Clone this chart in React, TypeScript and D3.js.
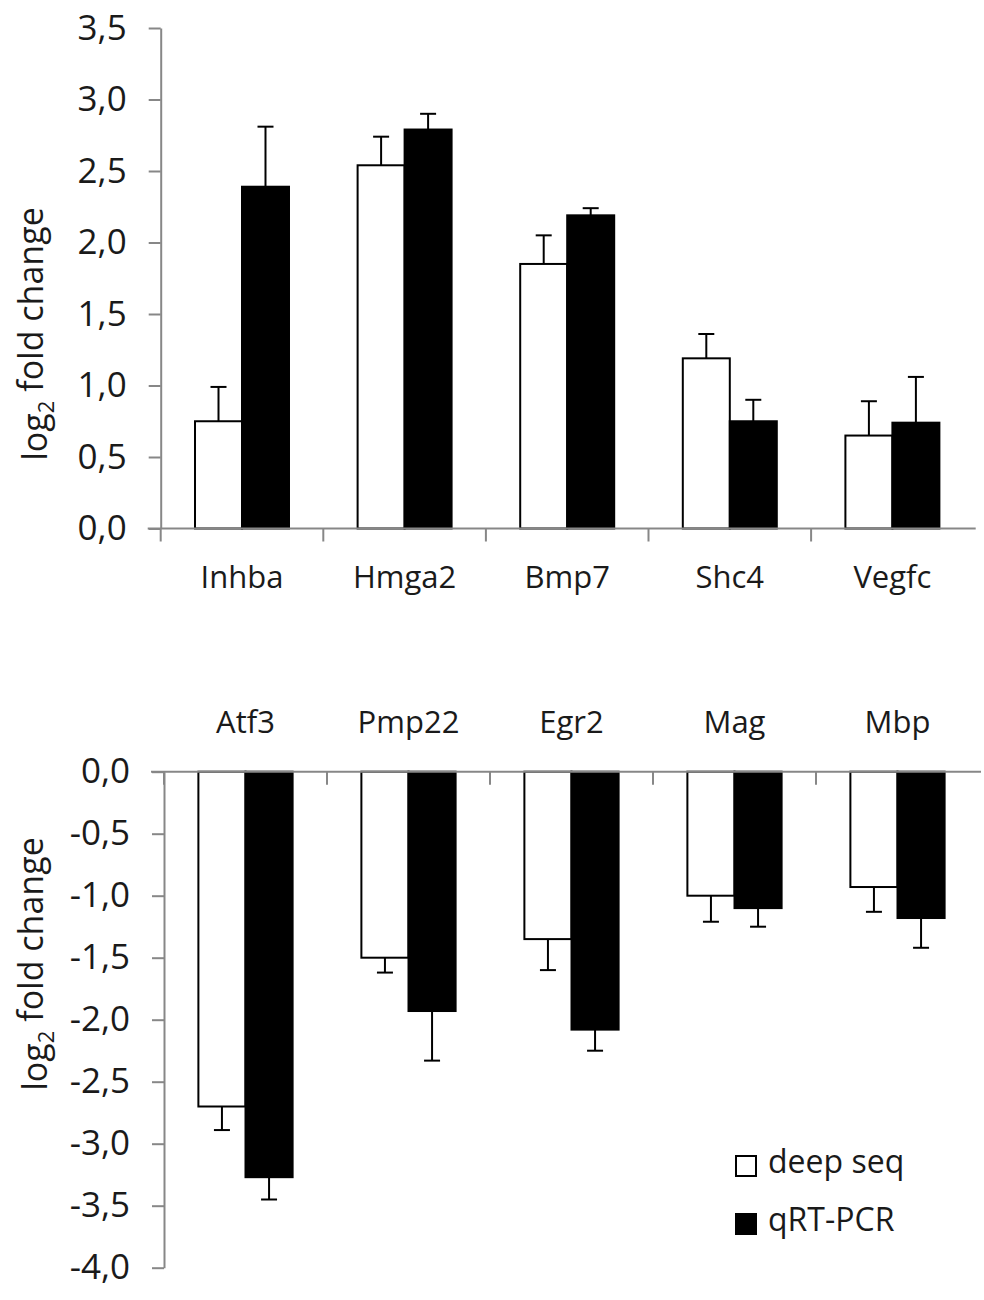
import * as React from 'react';
import * as d3 from "d3";
import { useRef, useEffect } from 'react';

// Upregulated genes (top panel)
const upGenes = ["Inhba", "Hmga2", "Bmp7", "Shc4", "Vegfc"]
const upDeepSeq = [0.75, 2.54, 1.85, 1.19, 0.65]
const upDeepSeqErr = [0.24, 0.20, 0.20, 0.17, 0.24]
const upQrt = [2.39, 2.79, 2.19, 0.75, 0.74]
const upQrtErr = [0.42, 0.11, 0.05, 0.15, 0.32]
const upTicks = [0, 0.5, 1, 1.5, 2, 2.5, 3, 3.5]

// Downregulated genes (bottom panel)
const downGenes = ["Atf3", "Pmp22", "Egr2", "Mag", "Mbp"]
const downDeepSeq = [-2.70, -1.50, -1.35, -1.00, -0.93]
const downDeepSeqErr = [0.19, 0.12, 0.25, 0.21, 0.20]
const downQrt = [-3.27, -1.93, -2.08, -1.10, -1.18]
const downQrtErr = [0.18, 0.40, 0.17, 0.15, 0.24]
const downTicks = [0, -0.5, -1, -1.5, -2, -2.5, -3, -3.5, -4]

const seriesNames = ["deep seq", "qRT-PCR"]
const seriesFill = ["#ffffff", "#000000"]

const FONT = "'Open Sans', 'DejaVu Sans', sans-serif"
const AXIS = "#878787"

// european number format: comma decimal, plain hyphen minus
const fmt = d3.formatLocale({ decimal: ",", thousands: ".", grouping: [3], currency: ["", ""], minus: "-" }).format(".1f")

type PanelProps = {
    genes: string[]
    values: number[][]
    errors: number[][]
    ticks: number[]
    domain: [number, number]
    yRange: [number, number]
    xRange: [number, number]
    labelY: number
    titleY: number
}

const Panel = (props: PanelProps) => {
    const axisRef = useRef<SVGGElement>(null)
    const { genes, values, errors, ticks, domain, yRange, xRange } = props

    const y = d3.scaleLinear().domain(domain).range(yRange)
    const x = d3.scaleBand().domain(genes).range(xRange)
    const sub = d3.scaleBand<number>().domain([0, 1]).range([0, x.bandwidth()]).paddingInner(0).paddingOuter(0.73)
    const zeroY = y(0)

    useEffect(() => {
        const g = d3.select(axisRef.current)
        g.selectAll("*").remove()
        g.attr("transform", "translate(" + xRange[0] + ",0)")
            .call(d3.axisLeft(y).tickValues(ticks).tickFormat(d => fmt(d as number)).tickSize(12).tickSizeOuter(0).tickPadding(22))
        g.select(".domain").attr("stroke", AXIS).attr("stroke-width", 2)
        g.selectAll(".tick line").attr("stroke", AXIS).attr("stroke-width", 2)
        g.selectAll(".tick text")
            .attr("font-family", FONT)
            .attr("font-size", 35)
            .attr("fill", "#1a1a1a")
    }, [])

    return (
        <g>
            {/* bars */}
            {genes.map((gene, i) => (
                <g key={gene} transform={`translate(${x(gene)},0)`}>
                    {[0, 1].map(s => {
                        const v = values[s][i]
                        return (
                            <rect key={s}
                                x={sub(s)}
                                y={Math.min(y(v), zeroY)}
                                width={sub.bandwidth()}
                                height={Math.abs(y(v) - zeroY)}
                                fill={seriesFill[s]}
                                stroke="#000"
                                strokeWidth={2} />
                        )
                    })}
                    {[0, 1].map(s => {
                        const v = values[s][i]
                        const e = v >= 0 ? v + errors[s][i] : v - errors[s][i]
                        const cx = (sub(s) as number) + sub.bandwidth() / 2
                        return (
                            <g key={"e" + s} stroke="#000" strokeWidth={2}>
                                <line x1={cx} x2={cx} y1={y(v)} y2={y(e)} />
                                <line x1={cx - 8} x2={cx + 8} y1={y(e)} y2={y(e)} />
                            </g>
                        )
                    })}
                </g>
            ))}

            {/* category axis */}
            <line x1={xRange[0] - 13} x2={xRange[1] + 2} y1={zeroY} y2={zeroY} stroke={AXIS} strokeWidth={2} />
            {genes.map(gene => (
                <line key={"t" + gene} x1={x(gene)} x2={x(gene)} y1={zeroY} y2={zeroY + 13} stroke={AXIS} strokeWidth={2} />
            ))}
            {genes.map(gene => (
                <text key={"l" + gene}
                    x={(x(gene) as number) + x.bandwidth() / 2}
                    y={props.labelY}
                    textAnchor="middle"
                    fontFamily={FONT}
                    fontSize={31}
                    fill="#1a1a1a">{gene}</text>
            ))}

            {/* value axis */}
            <g ref={axisRef} />
            <text transform={`translate(47,${props.titleY}) rotate(-90)`}
                textAnchor="middle"
                fontFamily={FONT}
                fontSize={34}
                fill="#1a1a1a">
                log<tspan fontSize={22} dy="0.3em">2</tspan><tspan dy="-0.3em"> fold change</tspan>
            </text>
        </g>
    )
}

const App = () => {
    return (
        <svg width={984} height={1300} style={{ position: "absolute", left: 0, top: 0, background: "#fff" }}>
            <rect width={984} height={1300} fill="#fff" />
            <Panel genes={upGenes}
                values={[upDeepSeq, upQrt]}
                errors={[upDeepSeqErr, upQrtErr]}
                ticks={upTicks}
                domain={[0, 3.5]}
                yRange={[528.5, 28]}
                xRange={[160.7, 973.7]}
                labelY={588}
                titleY={334} />
            <Panel genes={downGenes}
                values={[downDeepSeq, downQrt]}
                errors={[downDeepSeqErr, downQrtErr]}
                ticks={downTicks}
                domain={[-4, 0]}
                yRange={[1267.7, 771.7]}
                xRange={[164, 979]}
                labelY={733}
                titleY={964} />

            {/* legend */}
            {seriesNames.map((name, i) => (
                <g key={name} transform={`translate(736,${1156 + i * 58})`}>
                    <rect width={20} height={20} fill={seriesFill[i]} stroke="#000" strokeWidth={2} />
                    <text x={32} y={17} fontFamily={FONT} fontSize={32} fill="#1a1a1a">{name}</text>
                </g>
            ))}
        </svg>
    )
}

export default App
